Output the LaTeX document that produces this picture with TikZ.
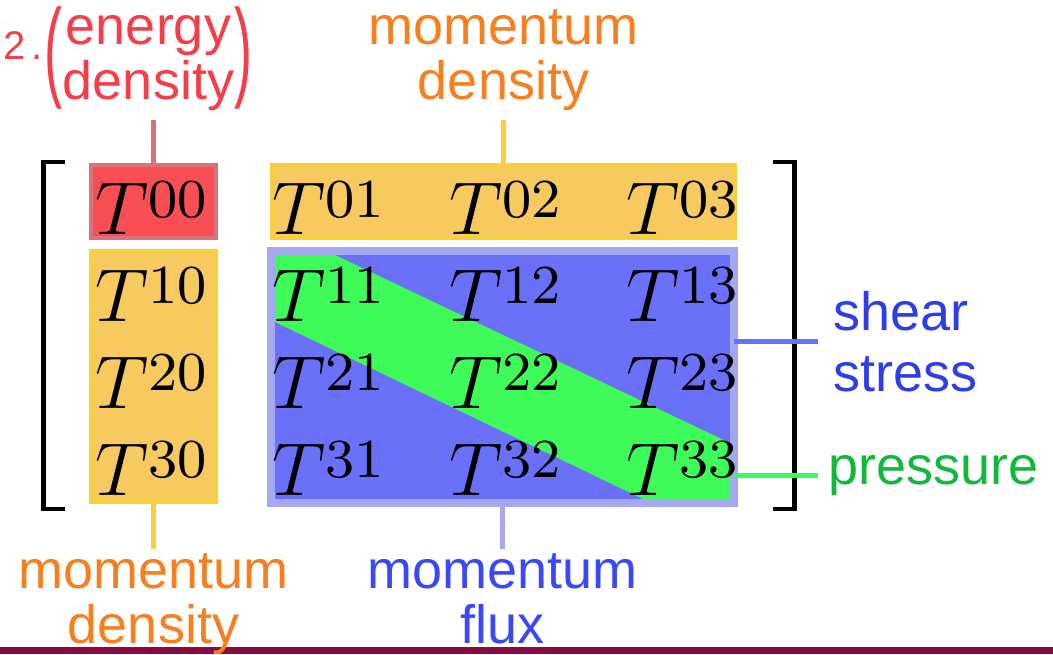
\documentclass[tikz,border=0pt]{standalone}
\usepackage[no-math]{fontspec}
\setmainfont{Liberation Sans}
\usepackage{graphicx}
\usepackage{xcolor}
\usepackage{tikz}
\usetikzlibrary{positioning}
\definecolor{edred}{HTML}{F43F4B}
\definecolor{edfill}{HTML}{F74F53}
\definecolor{edborder}{HTML}{D9737B}
\definecolor{modorange}{HTML}{F6801F}
\definecolor{modfill}{HTML}{F7CA5F}
\definecolor{modborder}{HTML}{F9D03A}
\definecolor{fluxfill}{HTML}{6A70F8}
\definecolor{fluxborder}{HTML}{A3A8F1}
\definecolor{fluxtext}{HTML}{3B48F5}
\definecolor{sheartext}{HTML}{2E3DE6}
\definecolor{diaggreen}{HTML}{3FFB5A}
\definecolor{prestext}{HTML}{10B93C}
\definecolor{maroonbar}{HTML}{8A0B40}
\newcommand{\tcomp}[1]{\scalebox{6.25}{$T^{\lower1.5pt\hbox{\scalebox{1.1}{$\scriptstyle #1$}}}$}}

\tikzset{
  box/.style={rectangle, inner sep=0pt, outer sep=0pt, line width=4pt},
  entry/.style={anchor=base west, inner sep=0pt, font=\fontsize{12}{14}\selectfont},
  lbl/.style={inner xsep=0pt, align=center, font=\fontsize{54}{55}\selectfont},
  con/.style={line width=5pt},
  bracket/.style={line width=4.5pt, black}
}

\begin{document}
\begin{tikzpicture}[x=1pt, y=1pt]
    \useasboundingbox (0,0) rectangle (1053,654);

    % matrix brackets
    \draw[bracket] (65,492) -- (43.5,492) -- (43.5,145) -- (65,145);
    \draw[bracket] (773,492) -- (794.5,492) -- (794.5,145) -- (773,145);

    % coloured blocks
    \node[box, draw=edborder, fill=edfill, minimum width=125pt, minimum height=73pt] (b00) at (153.5,452.5) {};
    \node[box, draw=modborder, fill=modfill, minimum width=125pt, minimum height=251pt] (bcol) at (153.5,277.5) {};
    \node[box, draw=modborder, fill=modfill, minimum width=463pt, minimum height=73pt] (brow) at (503.5,452.5) {};
    \node[box, draw=fluxborder, fill=fluxfill, line width=8pt, minimum width=463pt, minimum height=252pt] (flux) at (502.5,277) {};
    \fill[diaggreen] (275,399) -- (335,399) -- (730,211) -- (730,155) -- (643,155) -- (275,332) -- cycle;

    % T^{mu nu}
    \foreach \r in {0,...,3}
      \foreach \c in {0,...,3}
        \node[entry] (t\r\c) at ({95+177*\c},{419-86.67*\r}) {\tcomp{\r\c}};

    \fill[maroonbar] (0,0) rectangle (1053,7);

    % labels
    \node[lbl, inner ysep=9pt, text=edred, above=45pt of b00, xshift=-5pt] (ed) {energy\\density};
    \node[inner sep=0pt, text=edred, font=\fontsize{54}{55}\selectfont, left=0pt of ed, yshift=5pt] (lpar) {\scalebox{1}[2.04]{(}};
    \node[inner sep=0pt, text=edred, font=\fontsize{54}{55}\selectfont, right=0pt of ed, yshift=5pt] (rpar) {\scalebox{1}[2.04]{)}};
    \node[anchor=base west, inner sep=0pt, text=edred, font=\fontsize{40}{40}\selectfont] (num) at (3,594) {2\kern6pt.};
    \node[lbl, inner ysep=9pt, text=modorange, above=45pt of brow] (mdtop) {momentum\\density};
    \node[lbl, inner ysep=4pt, text=modorange, below=47pt of bcol] (mdbot) {momentum\\density};
    \node[lbl, inner ysep=4pt, text=fluxtext, below=46pt of flux] (mflux) {momentum\\flux};
    \node[lbl, align=left, anchor=west, inner xsep=15pt, inner ysep=0pt, text=sheartext,
          font=\fontsize{54}{61}\selectfont] (shear) at (818,312) {shear\\stress};
    \node[lbl, anchor=west, inner xsep=10pt, inner ysep=0pt, text=prestext] (pres) at (818,178) {pressure};

    % connectors
    \draw[con, edborder] (b00.north) -- (b00.north |- ed.south);
    \draw[con, modborder] (brow.north) -- (mdtop.south);
    \draw[con, modborder] (bcol.south) -- (mdbot.north);
    \draw[con, fluxborder] (flux.south) -- (mflux.north);
    \draw[con, fluxfill] (flux.east |- shear.west) -- (shear.west);
    \draw[con, diaggreen] (flux.east |- pres.west) -- (pres.west);
  \end{tikzpicture}
\end{document}
